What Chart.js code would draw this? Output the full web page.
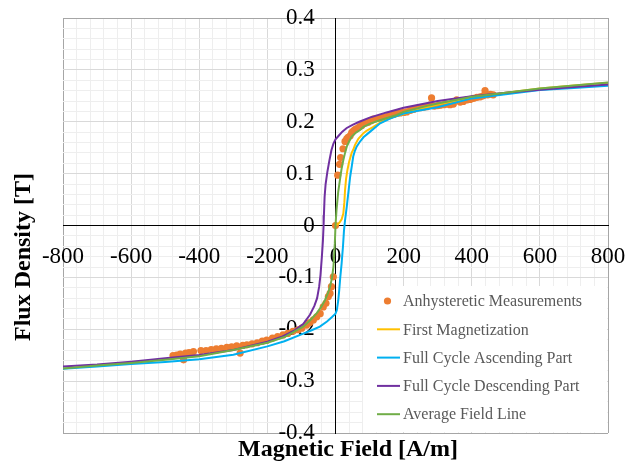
<!DOCTYPE html>
<html lang="en">
<head>
    <meta charset="UTF-8" />
    <title>B-H curves</title>
    <style>
        body {
            margin: 0;
            background: #fff;
        }
        #wrap {
            width: 638px;
            height: 464px;
        }
    </style>
    <script src="https://cdn.jsdelivr.net/npm/chart.js"></script>
</head>
<body>
<div id="wrap">
    <canvas id="bhChart" width="638" height="464"></canvas>
</div>

<script>
  // anhysteretic measurements (dots)
  const measH = [0, 6.5, 12, 15, 22, 28, 33, 37, 43, 47.5, 52, 57, 62, 70, 77, 82, 90, 96, 104, 111, 121, 130, 140, 150, 160, 170, 180, 190, 200, 209, 220, 230, 238, 248, 258, 268, 277, 282, 290, 300, 307, 318, 326, 336, 346, 356, 366, 375, 385, 395, 405, 415, 425, 434, 439, 447, 455, 463,
    -6.5, -12, -16, -21, -28, -36, -45, -55, -65, -75, -85, -99, -110, -125, -140, -154, -170, -185, -202, -215, -230, -245, -260, -272, -280, -290, -305, -319, -335, -350, -365, -380, -395, -417, -430, -440, -446, -456, -466, -477];
  const measB = [0, 0.097, 0.118, 0.131, 0.148, 0.162, 0.167, 0.170, 0.173, 0.179, 0.182, 0.185, 0.187, 0.190, 0.193, 0.196, 0.198, 0.199, 0.202, 0.205, 0.206, 0.207, 0.209, 0.210, 0.212, 0.214, 0.216, 0.217, 0.218, 0.219, 0.222, 0.224, 0.226, 0.227, 0.228, 0.229, 0.232, 0.246, 0.230, 0.231, 0.232, 0.233, 0.234, 0.233, 0.234, 0.242, 0.238, 0.239, 0.242, 0.243, 0.245, 0.247, 0.248, 0.250, 0.260, 0.252, 0.253, 0.252,
    -0.099, -0.118, -0.131, -0.137, -0.150, -0.157, -0.170, -0.176, -0.182, -0.187, -0.192, -0.198, -0.201, -0.204, -0.208, -0.211, -0.214, -0.217, -0.221, -0.223, -0.226, -0.228, -0.230, -0.231, -0.246, -0.232, -0.234, -0.235, -0.237, -0.238, -0.239, -0.241, -0.241, -0.243, -0.245, -0.246, -0.259, -0.248, -0.250, -0.251];

  // first magnetization
  const firstH = [0, 8, 13, 18, 23, 26, 28, 31, 35, 40, 47.5, 52, 57, 67, 82, 92, 111, 130, 160, 200, 250, 300, 400, 500, 600, 700, 800];
  const firstB = [0, 0.003, 0.007, 0.012, 0.023, 0.045, 0.068, 0.090, 0.107, 0.123, 0.140, 0.146, 0.155, 0.167, 0.178, 0.183, 0.190, 0.198, 0.207, 0.215, 0.225, 0.233, 0.247, 0.256, 0.264, 0.270, 0.275];

  // full cycle, ascending branch
  const ascH = [-800, -700, -600, -500, -400, -300, -200, -150, -100, -70, -46, -25, -11, 0, 4, 8, 11, 14, 18, 22, 25, 28, 33, 38, 43, 48, 52, 57, 62, 70, 82, 100, 131, 160, 200, 250, 300, 400, 500, 600, 700, 800];
  const ascB = [-0.276, -0.272, -0.267, -0.263, -0.258, -0.249, -0.233, -0.223, -0.210, -0.202, -0.195, -0.185, -0.177, -0.170, -0.163, -0.145, -0.124, -0.100, -0.073, -0.040, -0.009, 0.010, 0.036, 0.065, 0.094, 0.115, 0.133, 0.144, 0.152, 0.160, 0.170, 0.180, 0.197, 0.206, 0.216, 0.222, 0.228, 0.245, 0.253, 0.261, 0.265, 0.2695];

  // full cycle, descending branch
  const descH = [800, 700, 600, 500, 400, 300, 200, 150, 100, 70, 50, 33, 20, 8, 0, -6, -12, -18, -24, -29, -32, -34, -35, -37, -40, -44, -48, -54, -62, -75, -95, -120, -160, -200, -300, -400, -500, -600, -700, -800];
  const descB = [0.272, 0.267, 0.2615, 0.256, 0.249, 0.240, 0.227, 0.218, 0.208, 0.200, 0.194, 0.188, 0.181, 0.172, 0.166, 0.158, 0.145, 0.125, 0.103, 0.080, 0.055, 0.020, 0.000, -0.030, -0.060, -0.095, -0.118, -0.140, -0.155, -0.172, -0.190, -0.202, -0.215, -0.224, -0.240, -0.2496, -0.256, -0.2625, -0.268, -0.272];

  // average field line
  const avgH = [-800, -700, -600, -500, -400, -300, -200, -150, -95, -75, -55, -42, -31, -22, -16, -10, -6, -2, 0, 3, 8, 13, 18, 23, 28, 33, 40, 47, 60, 72, 82, 100, 130, 180, 200, 277, 300, 375, 400, 500, 600, 700, 800];
  const avgB = [-0.2755, -0.270, -0.265, -0.259, -0.252, -0.240, -0.226, -0.215, -0.195, -0.183, -0.169, -0.157, -0.144, -0.130, -0.118, -0.100, -0.079, -0.035, 0, 0.030, 0.065, 0.088, 0.110, 0.126, 0.140, 0.152, 0.162, 0.171, 0.179, 0.184, 0.190, 0.196, 0.203, 0.213, 0.219, 0.232, 0.235, 0.245, 0.248, 0.256, 0.264, 0.270, 0.2755];

  const seriesNames = ["Anhysteretic Measurements", "First Magnetization", "Full Cycle Ascending Part", "Full Cycle Descending Part", "Average Field Line"];
  const seriesColors = ["#ED7D31", "#FFC000", "#00B0F0", "#7030A0", "#70AD47"];

  function pts(hs, bs) {
    return hs.map((h, i) => ({ x: h, y: bs[i] }));
  }

  Chart.defaults.font.family = "'Liberation Serif', 'Times New Roman', serif";
  Chart.defaults.color = "#000";

  // axis titles, drawn outside the plot
  const axisTitles = {
    id: "axisTitles",
    afterDraw(chart) {
      const ctx = chart.ctx;
      ctx.save();
      ctx.fillStyle = "#000";
      ctx.font = "bold 24px 'Liberation Serif', serif";
      ctx.textAlign = "center";
      ctx.textBaseline = "middle";
      ctx.fillText("Magnetic Field [A/m]", 348, 450);
      ctx.translate(24, 257);
      ctx.rotate(-Math.PI / 2);
      ctx.fillText("Flux Density [T]", 0, 0);
      ctx.restore();
    },
  };

  // legend box in the lower right of the plot
  const boxLegend = {
    id: "boxLegend",
    afterDraw(chart) {
      const ctx = chart.ctx;
      const area = chart.chartArea;
      ctx.save();
      ctx.fillStyle = "#fff";
      ctx.fillRect(363, 286, area.right - 1 - 363, area.bottom - 1 - 286);
      ctx.font = "16px 'Liberation Serif', serif";
      ctx.textBaseline = "middle";
      ctx.textAlign = "left";
      seriesNames.forEach((name, i) => {
        const y = 301 + i * 28.3;
        ctx.fillStyle = seriesColors[i];
        ctx.strokeStyle = seriesColors[i];
        if (i === 0) {
          ctx.beginPath();
          ctx.arc(387.5, y, 3.6, 0, Math.PI * 2);
          ctx.fill();
        } else {
          ctx.lineWidth = 2;
          ctx.beginPath();
          ctx.moveTo(377, y);
          ctx.lineTo(400, y);
          ctx.stroke();
        }
        ctx.fillStyle = "#595959";
        ctx.fillText(name, 403, y + 1);
      });
      ctx.restore();
    },
  };

  function gridColor(isMajor, isEdge, isZero) {
    if (isZero) return "#000";
    if (isEdge) return "#a6a6a6";
    return isMajor ? "#d9d9d9" : "#eeeeee";
  }

  // centred axes should not eat any room from the plot
  function noRoom(s) {
    if (s.isHorizontal()) s.height = 0; else s.width = 0;
    s.paddingTop = 0;
    s.paddingBottom = 0;
    s.paddingLeft = 0;
    s.paddingRight = 0;
  }

  const lineBase = {
    showLine: true,
    pointRadius: 0,
    borderWidth: 2,
    tension: 0,
    fill: false,
  };

  new Chart(document.getElementById("bhChart"), {
    type: "scatter",
    data: {
      datasets: [
        {
          label: seriesNames[0],
          data: pts(measH, measB),
          showLine: false,
          pointRadius: 3.6,
          pointBorderWidth: 0,
          backgroundColor: seriesColors[0],
          borderColor: seriesColors[0],
          order: 4,
        },
        { ...lineBase, label: seriesNames[1], data: pts(firstH, firstB), borderColor: seriesColors[1], order: 3 },
        { ...lineBase, label: seriesNames[2], data: pts(ascH, ascB), borderColor: seriesColors[2], order: 2 },
        { ...lineBase, label: seriesNames[3], data: pts(descH, descB), borderColor: seriesColors[3], order: 1 },
        { ...lineBase, label: seriesNames[4], data: pts(avgH, avgB), borderColor: seriesColors[4], order: 0 },
      ],
    },
    options: {
      responsive: false,
      animation: false,
      layout: {
        padding: { left: 63, right: 30, top: 18, bottom: 31 },
      },
      plugins: {
        legend: { display: false },
        tooltip: { enabled: false },
      },
      scales: {
        x: {
          type: "linear",
          min: -800,
          max: 800,
          position: { y: 0 },
          afterFit: noRoom,
          border: { color: "#000", width: 1 },
          grid: {
            drawTicks: false,
            color: (c) => {
              const v = Math.round(c.tick.value);
              return gridColor(v % 200 === 0, Math.abs(v) === 800, v === 0);
            },
          },
          ticks: {
            stepSize: 40,
            autoSkip: false,
            maxRotation: 0,
            padding: 18,
            font: { size: 23 },
            callback: (v) => (Math.round(v) % 200 === 0 ? String(Math.round(v)) : ""),
          },
        },
        y: {
          type: "linear",
          min: -0.4,
          max: 0.4,
          position: { x: 0 },
          afterFit: noRoom,
          border: { color: "#000", width: 1 },
          grid: {
            drawTicks: false,
            color: (c) => {
              const k = Math.round(c.tick.value * 50);
              return gridColor(k % 5 === 0, Math.abs(k) === 20, k === 0);
            },
          },
          ticks: {
            stepSize: 0.02,
            autoSkip: false,
            font: { size: 23 },
            // labels sit left of the centre axis; trailing spaces keep a gap
            callback: (v) => {
              const k = Math.round(v * 50);
              return k % 5 === 0 ? String(Math.round(v * 10) / 10) + "\u2002\u2009\u2009" : "";
            },
          },
        },
      },
    },
    plugins: [axisTitles, boxLegend],
  });
</script>
</body>
</html>
